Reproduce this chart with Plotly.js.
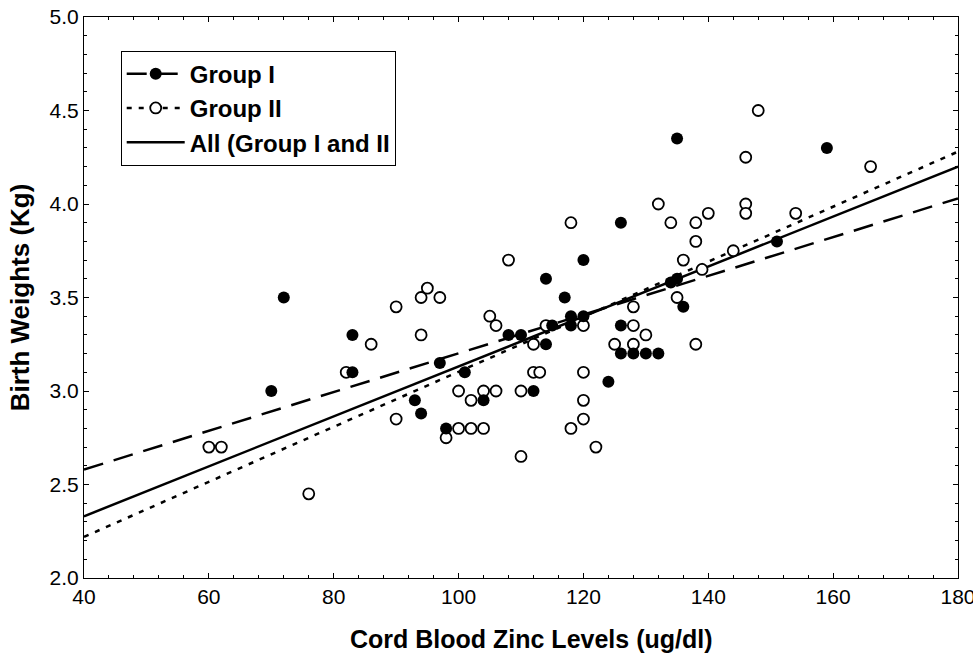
<!DOCTYPE html>
<html>
<head>
<meta charset="utf-8">
<script src="https://cdn.plot.ly/plotly-3.0.1.min.js"></script>
<style>html,body{margin:0;padding:0;background:#fff;}#chart{width:973px;height:657px;}</style>
</head>
<body>
<div id="chart"></div>
<script>
// Group I (filled circles)
const group1Zinc   = [70, 72, 83, 83, 93, 94, 97, 98, 101, 104, 108, 110, 112, 114, 114, 115, 117, 118, 118, 120, 120, 124, 126, 126, 126, 128, 130, 132, 134, 135, 135, 136, 151, 159];
const group1Weight = [3.00, 3.50, 3.30, 3.10, 2.95, 2.88, 3.15, 2.80, 3.10, 2.95, 3.30, 3.30, 3.00, 3.60, 3.25, 3.35, 3.50, 3.40, 3.35, 3.40, 3.70, 3.05, 3.90, 3.35, 3.20, 3.20, 3.20, 3.20, 3.58, 3.60, 4.35, 3.45, 3.80, 4.30];

// Group II (open circles)
const group2Zinc   = [60, 62, 76, 82, 86, 90, 90, 94, 94, 95, 97, 98, 100, 100, 102, 102, 104, 104, 105, 106, 106, 108, 110, 110, 112, 112, 113, 114, 118, 118, 120, 120, 120, 120, 122, 125, 128, 128, 128, 130, 132, 134, 135, 136, 138, 138, 138, 139, 140, 144, 146, 146, 146, 148, 154, 166];
const group2Weight = [2.70, 2.70, 2.45, 3.10, 3.25, 3.45, 2.85, 3.50, 3.30, 3.55, 3.50, 2.75, 3.00, 2.80, 2.95, 2.80, 3.00, 2.80, 3.40, 3.35, 3.00, 3.70, 3.00, 2.65, 3.25, 3.10, 3.10, 3.35, 3.90, 2.80, 3.35, 3.10, 2.95, 2.85, 2.70, 3.25, 3.45, 3.35, 3.25, 3.30, 4.00, 3.90, 3.50, 3.70, 3.90, 3.80, 3.25, 3.65, 3.95, 3.75, 4.25, 4.00, 3.95, 4.50, 3.95, 4.20];

// Regression lines (values at the ends of the x range)
const fitZinc    = [40, 180];
const fitGroup1  = [2.58, 4.03];
const fitGroup2  = [2.22, 4.28];
const fitAll     = [2.33, 4.20];

// Tick labels
const xTicks = [40, 60, 80, 100, 120, 140, 160, 180];
const yTicks = [2.0, 2.5, 3.0, 3.5, 4.0, 4.5, 5.0];

const FONT = '"Liberation Sans", Arial, Helvetica, sans-serif';
const dash1 = '20px,11px';
const dash2 = '5px,7px';

const traces = [
  // legend-only entries
  {x: [null], y: [null], mode: 'lines+markers', name: 'Group I', legendgroup: 'a',
   line: {color: '#000', width: 2.5, dash: dash1},
   marker: {symbol: 'circle', size: 12, color: '#000'}},
  {x: [null], y: [null], mode: 'lines+markers', name: 'Group II', legendgroup: 'b',
   line: {color: '#000', width: 2.5, dash: dash2},
   marker: {symbol: 'circle', size: 11, color: '#fff', line: {color: '#000', width: 1.8}}},
  {x: fitZinc, y: fitAll, mode: 'lines', name: 'All (Group I and II', legendgroup: 'c',
   line: {color: '#000', width: 2.5}},
  // regression lines
  {x: fitZinc, y: fitGroup1, mode: 'lines', showlegend: false,
   line: {color: '#000', width: 2.5, dash: dash1}},
  {x: fitZinc, y: fitGroup2, mode: 'lines', showlegend: false,
   line: {color: '#000', width: 2.5, dash: dash2}},
  // points
  {x: group2Zinc, y: group2Weight, mode: 'markers', showlegend: false,
   marker: {symbol: 'circle', size: 11, color: '#fff', line: {color: '#000', width: 1.8}}},
  {x: group1Zinc, y: group1Weight, mode: 'markers', showlegend: false,
   marker: {symbol: 'circle', size: 12, color: '#000'}}
];

const layout = {
  width: 973, height: 657,
  margin: {l: 84, r: 14.5, t: 17, b: 79, pad: 0},
  paper_bgcolor: '#fff', plot_bgcolor: '#fff',
  font: {family: FONT, color: '#000', size: 21},
  showlegend: true,
  legend: {
    x: 0.042, y: 0.94, xanchor: 'left', yanchor: 'top',
    bgcolor: '#fff', bordercolor: '#000', borderwidth: 1,
    font: {family: FONT, size: 24, weight: 'bold', color: '#000'},
    itemwidth: 58, tracegroupgap: 6, traceorder: 'normal'
  },
  xaxis: {
    range: [40, 180], tickvals: xTicks, ticktext: xTicks.map(String),
    showgrid: false, zeroline: false, ticklabeloverflow: 'allow',
    showline: true, linecolor: '#000', linewidth: 1, mirror: 'allticks',
    ticks: 'inside', ticklen: 5, tickcolor: '#000',
    minor: {dtick: 4, ticks: 'inside', ticklen: 3, tickcolor: '#000', showgrid: false},
    tickfont: {family: FONT, size: 21}
  },
  yaxis: {
    range: [2.0, 5.0], tickvals: yTicks, ticktext: yTicks.map(v => v.toFixed(1)),
    showgrid: false, zeroline: false,
    showline: true, linecolor: '#000', linewidth: 1, mirror: 'allticks',
    ticks: 'inside', ticklen: 5, tickcolor: '#000',
    minor: {dtick: 0.1, ticks: 'inside', ticklen: 3, tickcolor: '#000', showgrid: false},
    tickfont: {family: FONT, size: 21},
    title: {text: 'Birth Weights (Kg)', font: {family: FONT, size: 26, weight: 'bold'}, standoff: 12}
  },
  annotations: [{
    text: 'Cord Blood Zinc Levels (ug/dl)', xref: 'paper', yref: 'paper',
    x: 0.512, y: -0.108, xanchor: 'center', yanchor: 'middle', showarrow: false,
    font: {family: FONT, size: 25, weight: 'bold', color: '#000'}
  }]
};

Plotly.newPlot('chart', traces, layout, {displayModeBar: false, staticPlot: true});
</script>
</body>
</html>
